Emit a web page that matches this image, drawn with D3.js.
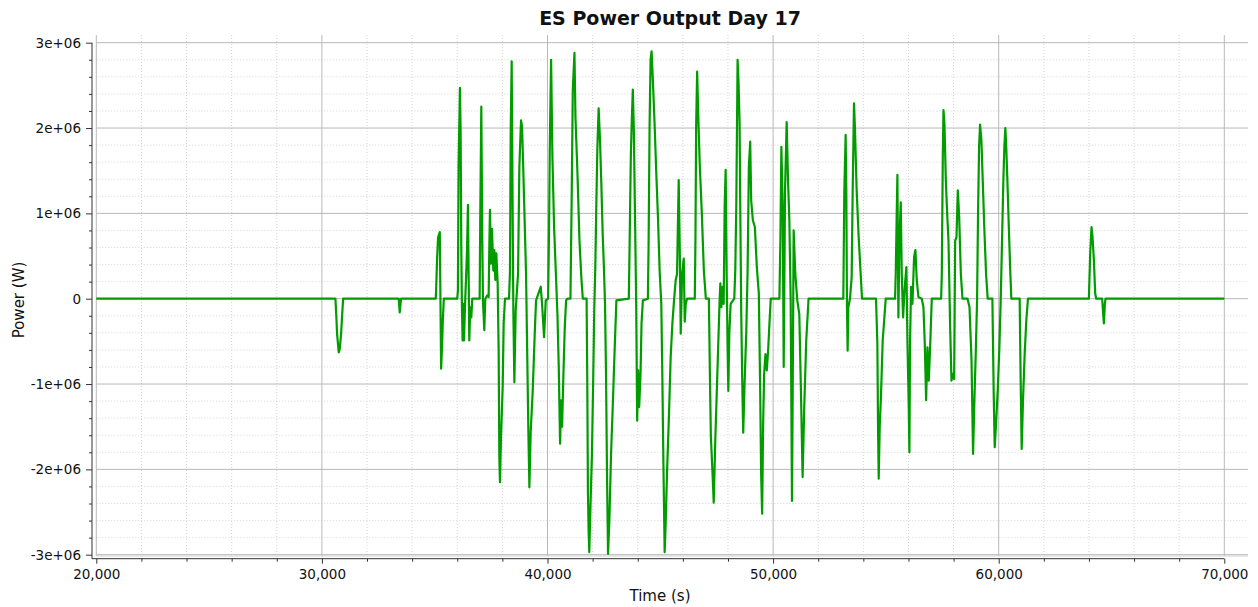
<!DOCTYPE html>
<html>
<head>
<meta charset="utf-8">
<script src="https://d3js.org/d3.v7.min.js"></script>
<title>ES Power Output Day 17</title>
<style>
  body { margin: 0; background: #fff; }
  svg text { font-family: "DejaVu Sans", sans-serif; fill: #111; }
  .axis path, .axis line { stroke: #333; }
</style>
</head>
<body>
<div id="chart"></div>
<script>
// time (s) and ES power (W)
var timeS = [
  20000, 30600, 30642, 30672, 30747, 30791, 30851, 30896, 30941, 33404, 33449, 33509,
  35046, 35061, 35106, 35150, 35225, 35255, 35285, 35330, 35360, 35405,
  36000, 36030, 36059, 36118, 36148, 36178, 36207, 36237, 36266, 36296, 36355, 36429,
  36474, 36503, 36533, 36577, 36622, 36666, 36992, 37021, 37066, 37110, 37140, 37199,
  37243, 37332, 37391, 37421, 37450, 37495, 37539, 37598, 37643, 37687, 37732, 37791,
  37835, 37865, 37894, 37939, 38013, 38057, 38116, 38294, 38338, 38368, 38412, 38457,
  38486, 38531, 38590, 38694, 38753, 38827, 38871, 38916, 38990, 39049, 39108, 39152,
  39197, 39256, 39345, 39434, 39493, 39596, 39700, 39759, 39848, 39922, 40026, 40070,
  40100, 40159, 40218, 40292, 40366, 40440, 40499, 40558, 40603, 40647, 40706, 40766,
  40825, 40884, 41017, 41076, 41121, 41195, 41239, 41328, 41417, 41506, 41565, 41733,
  41762, 41792, 41822, 41852, 41911, 41970, 42030, 42074, 42119, 42163, 42208, 42267,
  42327, 42386, 42446, 42505, 42549, 42594, 42638, 42683, 42743, 42817, 42891, 42980,
  43054, 43604, 43634, 43693, 43737, 43782, 43827, 43871, 43931, 43975, 44020, 44064,
  44124, 44168, 44228, 44450, 44480, 44525, 44569, 44614, 44658, 44747, 44822, 44896,
  44970, 45044, 45089, 45134, 45193, 45238, 45297, 45386, 45460, 45535, 45609, 45683,
  45742, 45816, 45861, 45906, 45965, 46039, 46084, 46128, 46188, 46529, 46559, 46589,
  46633, 46693, 46752, 46841, 46930, 47019, 47153, 47198, 47242, 47316, 47368, 47441,
  47515, 47574, 47632, 47662, 47706, 47765, 47809, 47853, 47897, 47941, 47985, 48015,
  48059, 48118, 48279, 48323, 48368, 48397, 48426, 48470, 48515, 48544, 48588, 48632,
  48676, 48735, 48809, 48867, 48926, 48985, 49029, 49103, 49191, 49279, 49367, 49426,
  49470, 49514, 49558, 49603, 49661, 49720, 49779, 49838, 49896, 50279, 50323, 50367,
  50426, 50470, 50529, 50602, 50661, 50720, 50779, 50837, 50882, 50911, 50985, 51072,
  51161, 51234, 51308, 51381, 51469, 51572, 53112, 53156, 53216, 53245, 53275, 53304,
  53334, 53408, 53482, 53526, 53586, 53630, 53704, 53793, 53882, 53941, 54562, 54622,
  54652, 54681, 54725, 54784, 54858, 54932, 54992, 55406, 55436, 55480, 55510, 55554,
  55598, 55658, 55702, 55761, 55835, 55909, 55954, 56013, 56042, 56072, 56116, 56176,
  56250, 56309, 56368, 56442, 56590, 56664, 56724, 56783, 56842, 56901, 56960, 57034,
  57448, 57478, 57522, 57552, 57596, 57656, 57715, 57774, 57848, 57907, 57966, 58026,
  58070, 58129, 58188, 58248, 58322, 58396, 58618, 58706, 58795, 58864, 58923, 58982,
  59041, 59085, 59130, 59174, 59233, 59292, 59366, 59440, 59513, 59720, 59779, 59823,
  59882, 59956, 60030, 60089, 60148, 60207, 60251, 60295, 60340, 60399, 60458, 60517,
  60561, 60929, 60974, 61018, 61077, 61151, 61225, 61298, 63997, 64056, 64115, 64160,
  64219, 64278, 64322, 64587, 64632, 64661, 64706, 64735, 70000
];
var powerW = [
  0, 0, -0.22e6, -0.41e6, -0.63e6, -0.59e6, -0.41e6, -0.2e6, 0, 0, -0.16e6, 0,
  0, 0.08e6, 0.47e6, 0.72e6, 0.78e6, -0.02e6, -0.82e6, -0.53e6, -0.25e6, 0,
  0, 0.1e6, 1.55e6, 2.47e6, 1.98e6, 0.61e6, -0.1e6, -0.49e6, -0.06e6, -0.49e6, 0, 0.53e6,
  1.1e6, 0.29e6, -0.49e6, -0.1e6, -0.22e6, 0, 0, 1.0e6, 2.25e6, 0.65e6, -0.04e6, -0.37e6,
  0, 0.04e6, 0.02e6, 0.61e6, 1.04e6, 0.41e6, 0.82e6, 0.33e6, 0.57e6, 0.22e6, 0.53e6, 0.18e6,
  -0.61e6, -1.86e6, -2.15e6, -1.62e6, -1.04e6, -0.29e6, 0, 0, 0.33e6, 1.94e6, 2.78e6, 0.92e6,
  -0.14e6, -0.98e6, -0.14e6, 0.29e6, 1.55e6, 2.09e6, 2.02e6, 1.62e6, 0.88e6, 0.29e6, -0.76e6, -1.55e6,
  -2.21e6, -1.55e6, -1.08e6, -0.41e6, -0.02e6, 0.06e6, 0.14e6, -0.06e6, -0.45e6, -0.02e6, 0, 0.84e6,
  1.74e6, 2.8e6, 1.66e6, 0.84e6, 0.33e6, -0.18e6, -0.8e6, -1.7e6, -1.19e6, -1.5e6, -0.88e6, -0.33e6,
  -0.02e6, 0, 0, 1.27e6, 2.45e6, 2.88e6, 2.13e6, 1.47e6, 0.68e6, 0.22e6, 0, 0,
  -0.92e6, -2.25e6, -2.72e6, -2.97e6, -2.37e6, -1.82e6, -0.88e6, -0.1e6, 0.37e6, 1.08e6, 1.74e6, 2.23e6,
  1.86e6, 1.35e6, 0.76e6, 0.33e6, -0.06e6, -0.88e6, -2.05e6, -2.99e6, -2.6e6, -1.82e6, -1.27e6, -0.57e6,
  -0.02e6, 0, 0.53e6, 1.66e6, 2.09e6, 2.45e6, 1.98e6, 1.12e6, -0.06e6, -1.43e6, -0.84e6, -1.27e6,
  -0.88e6, -0.29e6, -0.02e6, 0, 0.61e6, 2.02e6, 2.8e6, 2.9e6, 2.64e6, 2.05e6, 1.47e6, 0.96e6,
  0.33e6, -0.06e6, -0.88e6, -1.86e6, -2.97e6, -2.64e6, -2.05e6, -1.35e6, -0.68e6, -0.29e6, -0.02e6, 0.22e6,
  0.29e6, 1.39e6, 0.61e6, -0.41e6, 0.29e6, 0.47e6, -0.27e6, -0.06e6, 0, 0, 0.72e6, 2.02e6,
  2.66e6, 2.05e6, 1.55e6, 1.0e6, 0.33e6, 0, 0, -0.88e6, -1.62e6, -2.05e6, -2.39e6, -1.62e6,
  -1.0e6, -0.49e6, 0, 0.18e6, -0.1e6, 0.14e6, -0.06e6, 1.08e6, 1.51e6, 0.29e6, -0.61e6, -1.08e6,
  -0.41e6, -0.06e6, 0, 0.33e6, 1.08e6, 1.94e6, 2.8e6, 2.52e6, 2.05e6, 1.08e6, -0.18e6, -0.96e6,
  -1.57e6, -1.0e6, -0.41e6, 0.29e6, 1.55e6, 1.84e6, 1.15e6, 0.92e6, 0.84e6, 0.37e6, 0.06e6, -1.04e6,
  -2.05e6, -2.52e6, -1.47e6, -0.88e6, -0.65e6, -0.84e6, -0.61e6, -0.29e6, 0, 0, 0.68e6, 1.78e6,
  1.08e6, -0.8e6, 1.27e6, 2.07e6, 1.39e6, 0.92e6, -0.02e6, -2.37e6, -0.49e6, 0.8e6, 0.29e6, -0.02e6,
  -0.18e6, -1.08e6, -2.09e6, -1.27e6, -0.49e6, 0, 0, 1.25e6, 1.92e6, 1.27e6, -0.1e6, -0.61e6,
  -0.1e6, 0, 0.25e6, 1.23e6, 2.29e6, 1.98e6, 1.27e6, 0.72e6, 0.29e6, 0, 0, -0.53e6,
  -1.51e6, -2.11e6, -1.51e6, -1.12e6, -0.49e6, -0.22e6, 0, 0, 0.29e6, 1.0e6, 1.45e6, -0.22e6,
  0.68e6, 1.13e6, 0.29e6, -0.22e6, 0.14e6, 0.37e6, -0.49e6, -1.27e6, -1.8e6, -0.49e6, 0.14e6, -0.06e6,
  0.49e6, 0.57e6, 0.22e6, 0.02e6, 0, -0.1e6, -0.53e6, -1.19e6, -0.57e6, -0.96e6, -0.57e6, 0,
  0, 0.29e6, 1.66e6, 2.21e6, 2.05e6, 1.39e6, 1.0e6, 0.68e6, -0.33e6, -0.96e6, -0.88e6, -0.94e6,
  0.68e6, 0.72e6, 1.27e6, 0.96e6, 0.29e6, 0, 0, -0.1e6, -0.72e6, -1.82e6, -1.19e6, -0.65e6,
  -0.02e6, 1.0e6, 1.78e6, 2.04e6, 1.86e6, 1.39e6, 0.8e6, 0.29e6, 0, 0, -1.12e6, -1.74e6,
  -1.47e6, -1.08e6, -0.57e6, -0.02e6, 0.68e6, 1.39e6, 1.78e6, 2.0e6, 1.74e6, 1.27e6, 0.76e6, 0.29e6,
  0, 0, -0.96e6, -1.76e6, -1.19e6, -0.65e6, -0.25e6, 0, 0, 0.53e6, 0.84e6, 0.72e6,
  0.45e6, 0.06e6, 0, 0, -0.18e6, -0.29e6, -0.06e6, 0, 0
];

var xTicks = [20000, 30000, 40000, 50000, 60000, 70000];
var yTicks = [-3e6, -2e6, -1e6, 0, 1e6, 2e6, 3e6];
var chartTitle = "ES Power Output Day 17";
var xTitle = "Time (s)";
var yTitle = "Power (W)";

var width = 1258, height = 607;
var plotLeft = 96.3, plotRight = 1248, plotTop = 35, plotBottom = 556;
var axisX = 92, axisY = 558.7;

var svg = d3.select('#chart').append('svg').attr('width', width).attr('height', height);

var x = d3.scaleLinear().domain([20000, 70000]).range([96.3, 1224.3]);
var y = d3.scaleLinear().domain([-3e6, 3e6]).range([554.7, 42.7]);

// minor steps: 2000 s and 200 kW
var xMinor = d3.range(20000, 70001, 2000).filter(function(d) { return d % 10000 != 0; });
var yMinor = d3.range(-3e6, 3e6 + 1, 2e5).filter(function(d) { return Math.abs(d % 1e6) > 1; });

// grid
var grid = svg.append('g');
grid.selectAll('.vminor').data(xMinor).enter().append('line')
  .attr('x1', function(d) { return x(d); }).attr('x2', function(d) { return x(d); })
  .attr('y1', plotTop).attr('y2', plotBottom)
  .attr('stroke', '#d4d4d4').attr('stroke-dasharray', '1,2');
grid.selectAll('.hminor').data(yMinor).enter().append('line')
  .attr('x1', plotLeft).attr('x2', plotRight)
  .attr('y1', function(d) { return y(d); }).attr('y2', function(d) { return y(d); })
  .attr('stroke', '#d4d4d4').attr('stroke-dasharray', '1,2');
grid.selectAll('.vmajor').data(xTicks).enter().append('line')
  .attr('x1', function(d) { return x(d); }).attr('x2', function(d) { return x(d); })
  .attr('y1', plotTop).attr('y2', plotBottom)
  .attr('stroke', '#b8b8b8');
grid.selectAll('.hmajor').data(yTicks).enter().append('line')
  .attr('x1', plotLeft).attr('x2', plotRight)
  .attr('y1', function(d) { return y(d); }).attr('y2', function(d) { return y(d); })
  .attr('stroke', '#b8b8b8');
grid.append('line').attr('x1', plotLeft).attr('x2', plotRight)
  .attr('y1', plotBottom).attr('y2', plotBottom).attr('stroke', '#d0d0d0');

// series
var pts = timeS.map(function(t, i) { return [t, powerW[i]]; });
var line = d3.line().x(function(d) { return x(d[0]); }).y(function(d) { return y(d[1]); });
svg.append('path').datum(pts)
  .attr('d', line)
  .attr('fill', 'none')
  .attr('stroke', '#009c00')
  .attr('stroke-width', 2.2)
  .attr('stroke-linejoin', 'round');

// axes
var yFmt = function(d) { return d === 0 ? '0' : (d / 1e6) + 'e+06'; };
var yAxis = svg.append('g').attr('class', 'axis').attr('transform', 'translate(' + axisX + ',0)')
  .call(d3.axisLeft(y).tickValues(yTicks).tickFormat(yFmt).tickSize(6).tickPadding(5).tickSizeOuter(0));
svg.append('g').attr('class', 'axis').attr('transform', 'translate(' + axisX + ',0)')
  .call(d3.axisLeft(y).tickValues(yMinor).tickFormat('').tickSize(3).tickSizeOuter(0))
  .select('.domain').remove();
yAxis.select('.domain').attr('d', 'M0,' + y(3e6) + 'V' + axisY);

var xAxis = svg.append('g').attr('class', 'axis').attr('transform', 'translate(0,' + axisY + ')')
  .call(d3.axisBottom(x).tickValues(xTicks).tickFormat(d3.format(',')).tickSize(5).tickPadding(6).tickSizeOuter(0));
svg.append('g').attr('class', 'axis').attr('transform', 'translate(0,' + axisY + ')')
  .call(d3.axisBottom(x).tickValues(xMinor).tickFormat('').tickSize(3).tickSizeOuter(0))
  .select('.domain').remove();
xAxis.select('.domain').attr('d', 'M' + axisX + ',0H' + x(70000));

svg.selectAll('.axis text').attr('font-family', '"DejaVu Sans", sans-serif')
  .attr('font-size', '13.5px').attr('fill', '#111');

// titles
svg.append('text').text(chartTitle)
  .attr('x', 670).attr('y', 25).attr('text-anchor', 'middle')
  .attr('font-size', '19px').attr('font-weight', 'bold');
svg.append('text').text(xTitle)
  .attr('x', 660).attr('y', 601).attr('text-anchor', 'middle')
  .attr('font-size', '15px');
svg.append('text').text(yTitle)
  .attr('transform', 'translate(24,300) rotate(-90)').attr('text-anchor', 'middle')
  .attr('font-size', '15px');
</script>
</body>
</html>
